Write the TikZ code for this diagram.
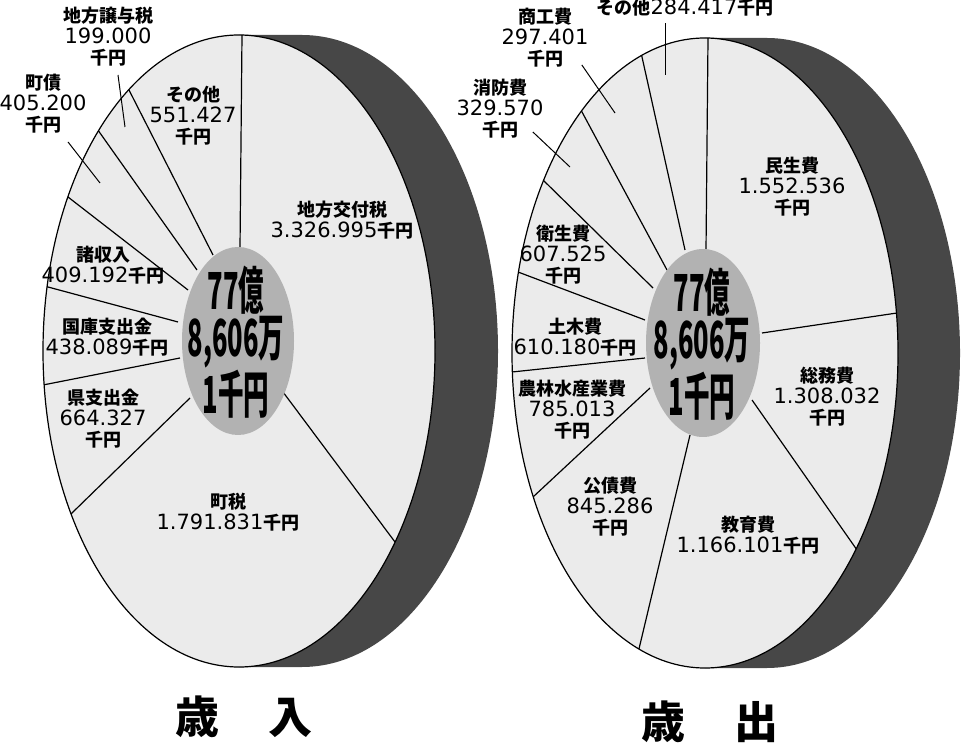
\documentclass[tikz,border=0pt]{standalone}
\usepackage{fontspec}
\setmainfont{Noto Sans CJK JP}
\newfontfamily\numfont{DejaVu Sans}
\newfontfamily\totalfont[FakeStretch=0.5]{Noto Sans CJK JP}
\usetikzlibrary{calc}
\newcommand{\amt}[1]{{\numfont\mdseries\fontsize{10.5}{10.5}\selectfont #1}}
\newcommand{\piedisc}[5]{%
  \fill[band] (#1,#2-#4) arc[start angle=270,end angle=90,x radius=#3,y radius=#4]
    -- (#1+#5,#2+#4) arc[start angle=90,end angle=-90,x radius=#3,y radius=#4] -- cycle;
  \fill[face] (#1,#2) ellipse[x radius=#3,y radius=#4];}

\begin{document}
\begin{tikzpicture}[x=0.5pt,y=-0.5pt,
    face/.style={fill=black!8},
    band/.style={fill=black!72},
    hub/.style={fill=black!30},
    slice/.style={line width=0.6pt},
    leader/.style={line width=0.5pt},
    lbl/.style={align=center,inner sep=0pt,font=\bfseries\fontsize{9}{10.5}\selectfont},
    total/.style={align=center,inner sep=0pt,font=\totalfont\bfseries\fontsize{25.5}{23.5}\selectfont},
    heading/.style={inner sep=0pt,font=\bfseries\fontsize{22}{22}\selectfont}]
  \useasboundingbox (0,0) rectangle (962,747);

  \piedisc{239}{351}{196}{316}{63}
  \begin{scope}
    \clip (239,351) ellipse[x radius=196,y radius=316];
    \foreach \ax/\ay/\bx/\by in {240/248/242/35, 213/255/130/92, 197/270/100/133,
        188/290/68/197, 178/322/48/287, 180/358/43/385, 190/398/73/512, 283/392/395/542}
      \draw[slice] (\ax,\ay) -- ($(\ax,\ay)!1.1!(\bx,\by)$);
  \end{scope}
  \draw[slice] (239,351) ellipse[x radius=196,y radius=316];
  \fill[hub] (238,341) ellipse[x radius=56,y radius=94];

  \piedisc{705}{353}{193}{315}{62}
  \begin{scope}
    \clip (705,353) ellipse[x radius=193,y radius=315];
    \foreach \ax/\ay/\bx/\by in {706/250/708/38, 685/250/642/57, 667/270/582/112,
        653/288/543/180, 645/320/518/272, 645/358/512/372, 650/388/533/497,
        690/435/638/653, 752/400/857/550, 762/333/897/313}
      \draw[slice] (\ax,\ay) -- ($(\ax,\ay)!1.1!(\bx,\by)$);
  \end{scope}
  \draw[slice] (705,353) ellipse[x radius=193,y radius=315];
  \fill[hub] (703,343) ellipse[x radius=57,y radius=94];

  \node[total] (intotal) at (236,342) {77億\\8,606万\\1千円};
  \node[total] (outtotal) at (702,344) {77億\\8,606万\\1千円};

  \node[lbl] (joyo) at (108,37) {地方譲与税\\\amt{199.000}\\千円};
  \node[lbl] (chosai) at (43,104) {町債\\\amt{405.200}\\千円};
  \node[lbl] (insonota) at (193,116) {その他\\\amt{551.427}\\千円};
  \node[lbl] (kofu) at (342,220) {地方交付税\\\amt{3.326.995}千円};
  \node[lbl] (shoshu) at (103,265) {諸収入\\\amt{409.192}千円};
  \node[lbl] (kokko) at (107,337) {国庫支出金\\\amt{438.089}千円};
  \node[lbl] (ken) at (103,419) {県支出金\\\amt{664.327}\\千円};
  \node[lbl] (chozei) at (228,512) {町税\\\amt{1.791.831}千円};

  \node[lbl] (outsonota) at (685,8) {その他\amt{284.417}千円};
  \node[lbl] (shoko) at (545,38) {商工費\\\amt{297.401}\\千円};
  \node[lbl] (shobo) at (500,109) {消防費\\\amt{329.570}\\千円};
  \node[lbl] (minsei) at (792,187) {民生費\\\amt{1.552.536}\\千円};
  \node[lbl] (eisei) at (563,255) {衛生費\\\amt{607.525}\\千円};
  \node[lbl] (doboku) at (575,337) {土木費\\\amt{610.180}千円};
  \node[lbl] (somu) at (827,397) {総務費\\\amt{1.308.032}\\千円};
  \node[lbl] (norin) at (572,410) {農林水産業費\\\amt{785.013}\\千円};
  \node[lbl] (kosai) at (610,507) {公債費\\\amt{845.286}\\千円};
  \node[lbl] (kyoiku) at (748,535) {教育費\\\amt{1.166.101}千円};

  \coordinate (joyo-end) at (125,127);
  \coordinate (chosai-end) at (100,183);
  \coordinate (outsonota-end) at (665,75);
  \coordinate (shoko-end) at (615,113);
  \coordinate (shobo-end) at (570,167);
  \draw[leader] ([shift={(10,8)}]joyo.south) -- (joyo-end);
  \draw[leader] ([shift={(25,8)}]chosai.south) -- (chosai-end);
  \draw[leader] ([shift={(-20,6)}]outsonota.south) -- (outsonota-end);
  \draw[leader] ([shift={(-7,-3)}]shoko.south east) -- (shoko-end);
  \draw[leader] ([shift={(-11,-7)}]shobo.south east) -- (shobo-end);

  \node[heading] (income) at (244,717) {歳\hspace{24.5pt}入};
  \node[heading] (spending) at (710,722) {歳\hspace{24.5pt}出};
\end{tikzpicture}
\end{document}
